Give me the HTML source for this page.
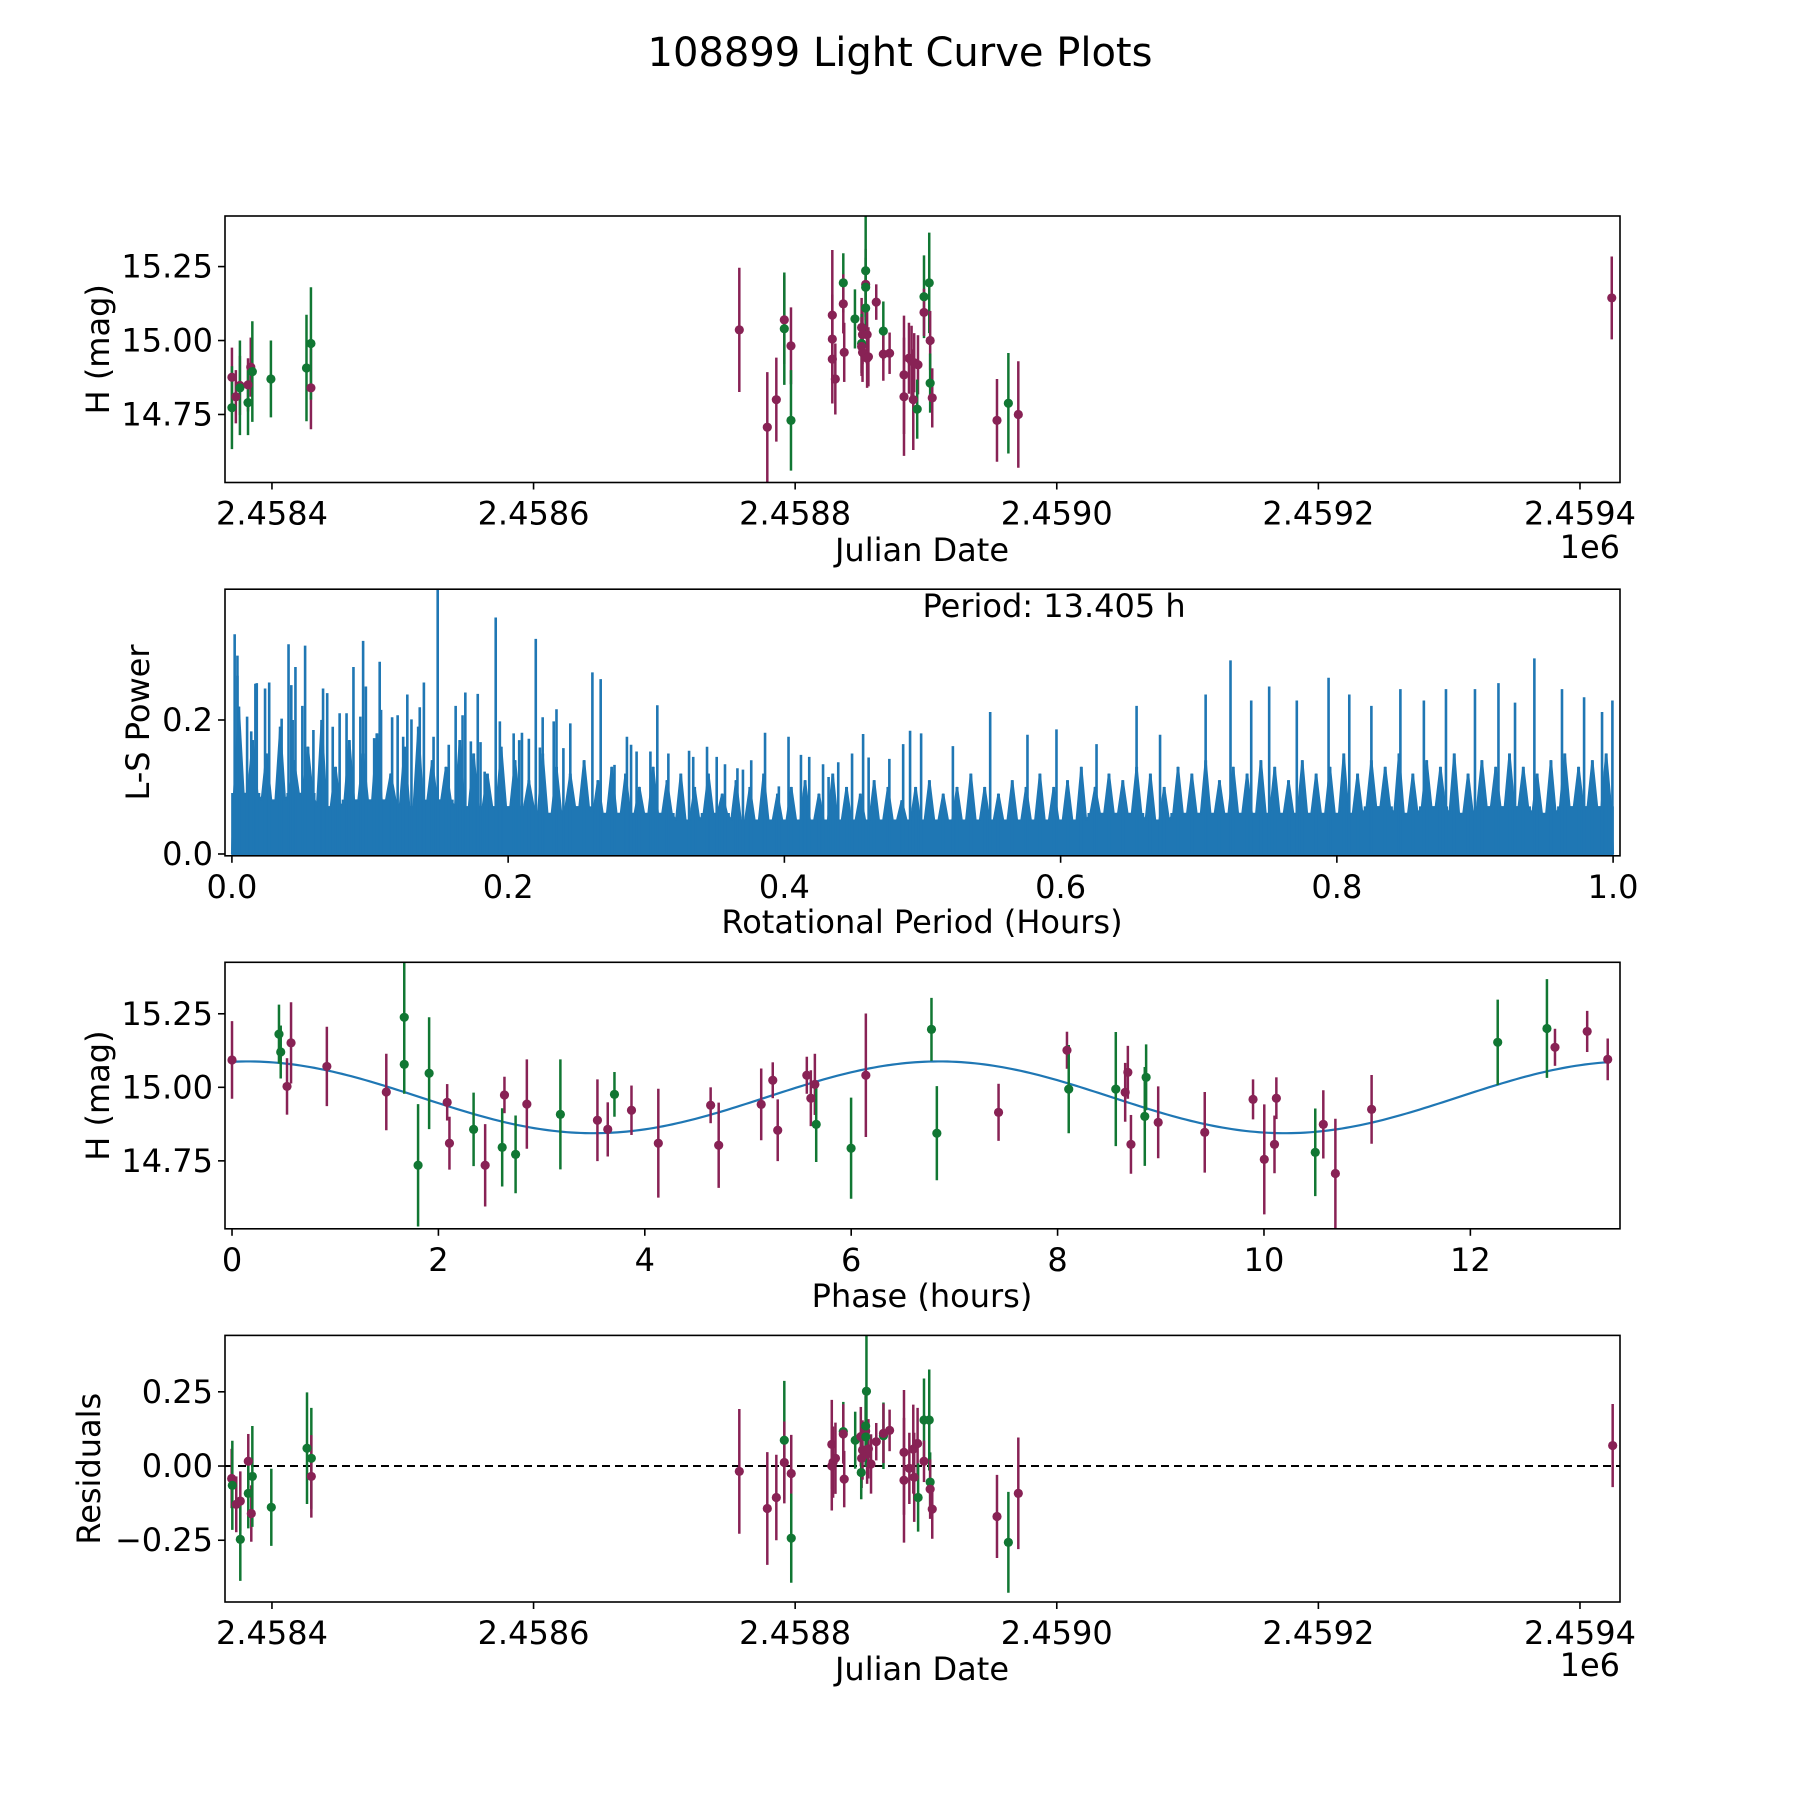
<!DOCTYPE html>
<html><head><meta charset="utf-8"><title>108899 Light Curve Plots</title>
<style>
html,body{margin:0;padding:0;background:#fff;}
svg{display:block;font-family:"DejaVu Sans","Liberation Sans",sans-serif;}
</style></head>
<body>
<svg id="fig" width="1800" height="1800" viewBox="0 0 1800 1800" xmlns="http://www.w3.org/2000/svg">
<rect x="0" y="0" width="1800" height="1800" fill="#fff"/>
<text x="900" y="66" font-size="40" text-anchor="middle" fill="#000">108899 Light Curve Plots</text>
<g id="p1"></g>
<g id="p2"></g>
<g id="p3"></g>
<g id="p4"></g>
</svg>
<script>
// ---------- Data: light curve (JD offset from 2458400) ----------
const lcJdOffset = [-30.6,-30.6,-27.6,-24.5,-24.5,-18.3,-18.3,-16.2,-15,-0.8,26.4,29.8,29.8,
 357.3,378.7,385.6,391.7,391.7,396.8,396.8,428.4,428.4,428.4,430.7,436.8,436.8,437.5,445.7,450.8,451.5,450.8,450.8,451.5,453.9,453.9,453.9,453.9,455,456,455,462,467.4,467.4,472.2,483.2,483.2,487,489,490.3,491,493.9,493.3,498.5,498.5,502.5,503.2,503.2,504.8,554.3,563,570.6,1024.3];
const lcMag = [14.876,14.773,14.81,14.848,14.84,14.85,14.79,14.91,14.895,14.87,14.907,14.84,14.99,
 15.036,14.707,14.80,15.07,15.04,14.982,14.73,15.086,15.005,14.937,14.87,15.195,15.124,14.96,15.073,15.044,15.02,14.99,14.98,14.96,15.19,15.18,15.236,15.11,15.02,14.945,14.94,15.13,15.032,14.954,14.957,14.884,14.81,14.94,14.93,14.80,14.925,14.918,14.768,15.148,15.095,15.195,15.00,14.856,14.806,14.73,14.788,14.75,15.144];
const lcErr = [0.1,0.14,0.09,0.1,0.16,0.09,0.11,0.1,0.17,0.13,0.18,0.14,0.19,
 0.21,0.186,0.142,0.15,0.19,0.13,0.17,0.22,0.15,0.15,0.12,0.1,0.1,0.1,0.1,0.1,0.1,0.1,0.1,0.1,0.12,0.1,0.2,0.1,0.1,0.1,0.1,0.06,0.1,0.09,0.07,0.2,0.2,0.12,0.12,0.17,0.1,0.1,0.1,0.14,0.08,0.17,0.1,0.1,0.1,0.14,0.17,0.18,0.14];
const lcBand = ['P','G','P','P','G','P','G','P','G','G','G','P','G',
 'P','P','P','P','G','P','G','P','P','P','P','G','P','P','G','P','P','G','P','P','P','G','G','G','P','P','P','P','G','P','P','P','P','P','P','P','P','P','G','G','P','G','P','G','P','P','G','P','P'];

// ---------- Data: periodogram ----------
const floorLevels = [0.09,0.08,0.09,0.07,0.08,0.08,0.07,0.08,0.07,0.07,0.07,0.06,0.07,0.06,0.06,0.06,0.05,0.06,0.05,0.05,0.05,0.05,0.05,0.05,0.05,0.05,0.05,0.05,0.05,0.05,0.05,0.06,0.06,0.05,0.06,0.06,0.06,0.06,0.06,0.06,0.06,0.07,0.06,0.07,0.06,0.07,0.07,0.06,0.07,0.07];
const binPeak = [0.22,0.17,0.15,0.19,0.14,0.16,0.2,0.13,0.17,0.15,0.18,0.12,0.16,0.19,0.14,0.13,0.17,0.15,0.12,0.16,
 0.14,0.11,0.15,0.13,0.12,0.14,0.11,0.13,0.12,0.1,0.13,0.11,0.12,0.1,0.12,0.09,0.11,0.1,0.12,0.09,
 0.1,0.11,0.09,0.12,0.1,0.09,0.11,0.1,0.08,0.1,0.11,0.09,0.1,0.12,0.1,0.09,0.11,0.1,0.12,0.1,
 0.11,0.13,0.1,0.12,0.11,0.13,0.12,0.1,0.13,0.12,0.14,0.11,0.13,0.12,0.14,0.13,0.11,0.14,0.12,0.13,
 0.15,0.12,0.14,0.13,0.15,0.12,0.14,0.13,0.15,0.12,0.14,0.13,0.15,0.13,0.12,0.14,0.15,0.13,0.14,0.15];
const spikePeriod = [0.002,0.004,0.004,0.011,0.014,0.017,0.018,0.024,0.027,0.036,0.041,0.043,0.044,0.046,0.051,0.053,0.059,0.066,0.069,0.073,0.078,0.083,0.088,0.093,0.095,0.097,0.103,0.107,0.108,0.116,0.120,0.124,0.127,0.130,0.136,0.139,0.146,0.149,0.157,0.162,0.167,0.169,0.173,0.178,0.180,0.183,0.191,0.194,0.204,0.208,0.210,0.215,0.220,0.223,0.225,0.233,0.235,0.240,0.245,0.255,0.261,0.267,0.277,0.286,0.289,0.293,0.303,0.308,0.316,0.331,0.334,0.344,0.351,0.357,0.366,0.370,0.376,0.386,0.396,0.403,0.412,0.418,0.428,0.432,0.439,0.449,0.457,0.461,0.476,0.486,0.491,0.499,
 0.522,0.549,0.576,0.597,0.626,0.655,0.672,0.705,0.723,0.738,0.751,0.771,0.794,0.809,0.825,0.846,0.863,0.879,0.900,0.917,0.929,0.943,0.963,0.979,0.992,0.9995];
const spikePower = [0.328,0.296,0.266,0.205,0.183,0.254,0.255,0.247,0.256,0.202,0.313,0.252,0.2,0.279,0.221,0.311,0.185,0.247,0.24,0.19,0.21,0.21,0.279,0.205,0.318,0.25,0.173,0.287,0.215,0.204,0.207,0.175,0.238,0.201,0.219,0.256,0.175,0.396,0.163,0.221,0.207,0.241,0.168,0.239,0.167,0.123,0.353,0.198,0.18,0.17,0.181,0.172,0.321,0.159,0.204,0.198,0.216,0.158,0.195,0.139,0.271,0.261,0.133,0.175,0.163,0.153,0.153,0.222,0.15,0.154,0.145,0.16,0.145,0.134,0.128,0.126,0.14,0.181,0.101,0.175,0.148,0.145,0.134,0.115,0.137,0.15,0.179,0.144,0.142,0.164,0.184,0.18,
 0.161,0.212,0.178,0.186,0.164,0.221,0.178,0.238,0.289,0.229,0.25,0.229,0.263,0.238,0.221,0.246,0.229,0.246,0.246,0.255,0.226,0.292,0.246,0.234,0.212,0.229];

// ---------- Data: phase-folded ----------
const phHours = [0,0.455,0.472,0.533,0.572,0.919,1.495,1.669,1.669,1.91,1.803,2.085,2.107,2.341,2.453,2.618,2.64,2.748,2.857,3.182,3.541,3.641,3.706,3.871,4.131,4.638,4.716,5.128,5.24,5.288,5.57,5.609,5.648,5.661,5.999,6.142,
 6.778,6.83,7.428,8.091,8.108,8.564,8.655,8.681,8.711,8.845,8.858,8.975,9.426,9.894,10.003,10.102,10.12,10.497,10.575,10.692,11.043,12.265,12.742,12.82,13.132,13.331];
const phMag = [15.093,15.181,15.12,15.003,15.151,15.071,14.984,15.238,15.078,15.048,14.735,14.949,14.81,14.857,14.735,14.796,14.974,14.772,14.943,14.908,14.888,14.857,14.976,14.922,14.81,14.939,14.803,14.942,15.024,14.854,15.041,14.963,15.01,14.874,14.793,15.041,
 15.197,14.844,14.915,15.126,14.994,14.994,14.983,15.051,14.806,14.901,15.034,14.881,14.847,14.959,14.755,14.806,14.963,14.779,14.874,14.707,14.925,15.153,15.2,15.136,15.19,15.095];
const phErr = [0.132,0.1,0.09,0.096,0.138,0.135,0.13,0.2,0.1,0.19,0.208,0.062,0.09,0.125,0.14,0.133,0.062,0.132,0.152,0.187,0.139,0.092,0.076,0.084,0.185,0.061,0.145,0.122,0.061,0.105,0.063,0.095,0.104,0.128,0.172,0.21,
 0.107,0.16,0.097,0.063,0.15,0.194,0.1,0.09,0.1,0.168,0.112,0.122,0.137,0.068,0.187,0.098,0.071,0.149,0.116,0.186,0.117,0.145,0.168,0.063,0.07,0.071];
const phBand = ['P','G','G','P','P','P','P','G','G','G','G','P','P','G','P','G','P','G','P','G','P','P','G','P','P','P','P','P','P','P','P','P','P','G','G','P',
 'G','G','P','P','G','G','P','P','P','G','G','P','P','P','P','P','P','G','P','P','P','G','G','P','P','P'];
const fitMean = [14.966];
const fitAmp = [0.122];
const fitPeakHour = [0.15];
const fitCycleHours = [6.7025];

// ---------- Data: residuals ----------
const resJdOffset = [-30.8,-30.3,-27.3,-24.2,-24.2,-18.1,-18.1,-15.8,-15,-0.5,26.8,30.1,30.1,
 357.3,378.7,385.6,391.7,391.7,397,397,428,428,429,430.8,436.8,436.8,437.5,445.9,450.2,450.8,450.5,451.5,453.9,453.9,455,456,454.5,454,458,462,467.5,467.5,472.2,483.2,483.2,487.3,490.3,491,493.6,494,498.5,498.5,502.5,503.2,503.2,504.8,554.3,563,570.6,1025];
const resVal = [-0.042,-0.065,-0.129,-0.118,-0.247,0.016,-0.092,-0.16,-0.035,-0.139,0.06,0.026,-0.035,
 -0.018,-0.143,-0.106,0.087,0.012,-0.025,-0.243,0.073,0,0.013,0.026,0.116,0.108,-0.044,0.087,0.099,0.026,-0.022,0.054,0.118,0.135,0.04,0.058,0.252,0.098,0.007,0.082,0.102,0.11,0.12,0.046,-0.048,-0.008,0.057,-0.038,0.076,-0.106,0.155,0.016,0.155,-0.054,-0.078,-0.145,-0.17,-0.257,-0.092,0.069];
const resErr = [0.1,0.15,0.094,0.1,0.14,0.092,0.118,0.095,0.17,0.13,0.188,0.17,0.139,
 0.21,0.19,0.144,0.2,0.138,0.13,0.15,0.15,0.15,0.12,0.12,0.1,0.1,0.095,0.096,0.1,0.1,0.09,0.1,0.12,0.1,0.1,0.1,0.2,0.1,0.1,0.063,0.112,0.1,0.07,0.21,0.21,0.12,0.15,0.15,0.12,0.115,0.14,0.07,0.17,0.1,0.1,0.1,0.14,0.17,0.188,0.14];
const resBand = ['P','G','P','P','G','P','G','P','G','G','G','G','P',
 'P','P','P','G','P','P','G','P','P','P','P','G','P','P','G','P','P','G','P','P','G','P','P','G','G','P','P','G','P','P','P','P','P','P','P','P','G','G','P','G','G','P','P','P','G','P','P'];

// ---------- Helpers ----------
const NS = 'http://www.w3.org/2000/svg';
const COL = {P:'#882255', G:'#117733'};
const L = 225, R = 1620;
function mk(tag, attrs, parent){
  const e = document.createElementNS(NS, tag);
  for (const k in attrs) e.setAttribute(k, attrs[k]);
  parent.appendChild(e);
  return e;
}
function scale(d0,d1,r0,r1){ return v => r0 + (v-d0)/(d1-d0)*(r1-r0); }

function frame(g, top, bot){
  const f = mk('rect', {x:L, y:top, width:R-L, height:bot-top, fill:'none', stroke:'#000', 'stroke-width':1.6}, g);
  
  
}
function xTicks(g, bot, sx, vals, labels, name){
  vals.forEach((v,i)=>{
    const x = sx(v);
    const t = mk('line', {x1:x, x2:x, y1:bot, y2:bot+7, stroke:'#000', 'stroke-width':1.6}, g);
    
    
    const tx = mk('text', {x:x, y:bot+42, 'font-size':32, 'text-anchor':'middle'}, g);
    
    
    tx.textContent = labels[i];
  });
}
function yTicks(g, sy, vals, labels, name){
  vals.forEach((v,i)=>{
    const y = sy(v);
    const t = mk('line', {x1:L-7, x2:L, y1:y, y2:y, stroke:'#000', 'stroke-width':1.6}, g);
    
    
    const tx = mk('text', {x:L-12, y:y+11, 'font-size':32, 'text-anchor':'end'}, g);
    
    
    tx.textContent = labels[i];
  });
}
function label(g, x, y, txt, rot, name, anchor){
  const t = mk('text', {x:x, y:y, 'font-size':32, 'text-anchor':anchor||'middle'}, g);
  if (rot) t.setAttribute('transform', 'rotate(-90 '+x+' '+y+')');
  
  
  t.textContent = txt;
}
function errPoints(g, xs, ys, es, bands, sx, sy, top, bot, name){
  const clip = 'clip-'+name;
  const cp = mk('clipPath', {id:clip}, g);
  mk('rect', {x:L, y:top, width:R-L, height:bot-top}, cp);
  const gg = mk('g', {'clip-path':'url(#'+clip+')'}, g);
  
  
  xs.forEach((xv,i)=>{
    const x = sx(xv), c = COL[bands[i]];
    const b = mk('line', {x1:x, x2:x, y1:sy(ys[i]+es[i]), y2:sy(ys[i]-es[i]), stroke:c, 'stroke-width':2.5}, gg);
    
    
  });
  xs.forEach((xv,i)=>{
    const c = COL[bands[i]];
    const p = mk('circle', {cx:sx(xv), cy:sy(ys[i]), r:4.6, fill:c}, gg);
    
    
  });
}

// ---------- Panel 1 ----------
(function(){
  const g = document.getElementById('p1');
  const top = 216, bot = 482.5;
  const sx = scale(-35.9, 1030.6, L, R);
  const sy = scale(14.52, 15.421, bot, top);
  errPoints(g, lcJdOffset, lcMag, lcErr, lcBand, sx, sy, top, bot, 'light-curve');
  frame(g, top, bot);
  xTicks(g, bot, sx, [0,200,400,600,800,1000], ['2.4584','2.4586','2.4588','2.4590','2.4592','2.4594'], 'jd-x-axis');
  yTicks(g, sy, [14.75,15.0,15.25], ['14.75','15.00','15.25'], 'mag-y-axis');
  label(g, 922, 561, 'Julian Date', false, 'x-axis-title');
  label(g, R, 558, '1e6', false, 'x-axis-offset', 'end');
  label(g, 109, (top+bot)/2, 'H (mag)', true, 'y-axis-title');
})();

// ---------- Panel 2 ----------
(function(){
  const g = document.getElementById('p2');
  const top = 589.2, bot = 855.8;
  const sx = scale(-0.005, 1.005, L, R);
  const sy = scale(-0.0027, 0.3952, bot, top);
  const cp = mk('clipPath', {id:'clip-ls'}, g);
  mk('rect', {x:L, y:top, width:R-L, height:bot-top}, cp);
  const gg = mk('g', {'clip-path':'url(#clip-ls)'}, g);
  
  
  const n = floorLevels.length;
  let d = 'M'+sx(0)+' '+sy(0);
  floorLevels.forEach((v,i)=>{
    const x0 = sx(i/n), x1 = sx((i+1)/n);
    d += ' L'+x0+' '+sy(v)+' L'+x1+' '+sy(v);
  });
  d += ' L'+sx(1)+' '+sy(0)+' Z';
  const base = mk('path', {d:d, fill:'#1f77b4', stroke:'#1f77b4', 'stroke-width':1.5}, gg);
  
  
  const m = binPeak.length;
  let z = 'M'+sx(0)+' '+sy(0);
  binPeak.forEach((v,i)=>{
    const xa = sx((i+0.15)/m), xb = sx((i+0.5)/m), xc = sx((i+0.85)/m);
    const fl = floorLevels[Math.floor(i*n/m)];
    z += ' L'+xa+' '+sy(fl)+' L'+xb+' '+sy(v)+' L'+xc+' '+sy(fl);
  });
  z += ' L'+sx(1)+' '+sy(0)+' Z';
  const tex = mk('path', {d:z, fill:'#1f77b4', stroke:'#1f77b4', 'stroke-width':2, 'stroke-linejoin':'bevel'}, gg);
  
  
  binPeak.forEach((v,i)=>{
    const x = sx((i+0.5)/m);
    const s = mk('line', {x1:x, x2:x, y1:sy(0), y2:sy(v), stroke:'#1f77b4', 'stroke-width':3}, gg);
    
    
  });
  spikePeriod.forEach((p,i)=>{
    const x = sx(p);
    const s = mk('line', {x1:x, x2:x, y1:sy(0), y2:sy(spikePower[i]), stroke:'#1f77b4', 'stroke-width':2.6}, gg);
    
    
  });
  frame(g, top, bot);
  xTicks(g, bot, sx, [0,0.2,0.4,0.6,0.8,1.0], ['0.0','0.2','0.4','0.6','0.8','1.0'], 'period-x-axis');
  yTicks(g, sy, [0,0.2], ['0.0','0.2'], 'power-y-axis');
  label(g, 922, 933, 'Rotational Period (Hours)', false, 'x-axis-title');
  label(g, 149, (top+bot)/2, 'L-S Power', true, 'y-axis-title');
  label(g, sx(0.5), 617, 'Period: 13.405 h', false, 'period-annotation', 'start');
})();

// ---------- Panel 3 ----------
(function(){
  const g = document.getElementById('p3');
  const top = 962.3, bot = 1228.8;
  const sx = scale(-0.068, 13.45, L, R);
  const sy = scale(14.519, 15.425, bot, top);
  const cp = mk('clipPath', {id:'clip-fit'}, g);
  mk('rect', {x:L, y:top, width:R-L, height:bot-top}, cp);
  let d = '';
  const hMax = phHours[phHours.length-1];
  for (let k=0; k<=300; k++){
    const h = hMax*k/300;
    const mm = fitMean[0] + fitAmp[0]*Math.cos(2*Math.PI*(h-fitPeakHour[0])/fitCycleHours[0]);
    d += (k?' L':'M')+sx(h).toFixed(2)+' '+sy(mm).toFixed(2);
  }
  const fit = mk('path', {d:d, fill:'none', stroke:'#1f77b4', 'stroke-width':2.2, 'clip-path':'url(#clip-fit)'}, g);
  
  
  errPoints(g, phHours, phMag, phErr, phBand, sx, sy, top, bot, 'phase');
  frame(g, top, bot);
  xTicks(g, bot, sx, [0,2,4,6,8,10,12], ['0','2','4','6','8','10','12'], 'phase-x-axis');
  yTicks(g, sy, [14.75,15.0,15.25], ['14.75','15.00','15.25'], 'mag-y-axis');
  label(g, 922, 1307, 'Phase (hours)', false, 'x-axis-title');
  label(g, 109, (top+bot)/2, 'H (mag)', true, 'y-axis-title');
})();

// ---------- Panel 4 ----------
(function(){
  const g = document.getElementById('p4');
  const top = 1335.4, bot = 1602;
  const sx = scale(-35.9, 1030.6, L, R);
  const sy = scale(-0.458, 0.44, bot, top);
  const z = mk('line', {x1:L, x2:R, y1:sy(0), y2:sy(0), stroke:'#000', 'stroke-width':2, 'stroke-dasharray':'8,5'}, g);
  
  
  errPoints(g, resJdOffset, resVal, resErr, resBand, sx, sy, top, bot, 'residual');
  frame(g, top, bot);
  xTicks(g, bot, sx, [0,200,400,600,800,1000], ['2.4584','2.4586','2.4588','2.4590','2.4592','2.4594'], 'jd-x-axis');
  yTicks(g, sy, [-0.25,0,0.25], ['\u22120.25','0.00','0.25'], 'residual-y-axis');
  label(g, 922, 1680, 'Julian Date', false, 'x-axis-title');
  label(g, R, 1676, '1e6', false, 'x-axis-offset', 'end');
  label(g, 100, (top+bot)/2, 'Residuals', true, 'y-axis-title');
})();
</script>
</body></html>
